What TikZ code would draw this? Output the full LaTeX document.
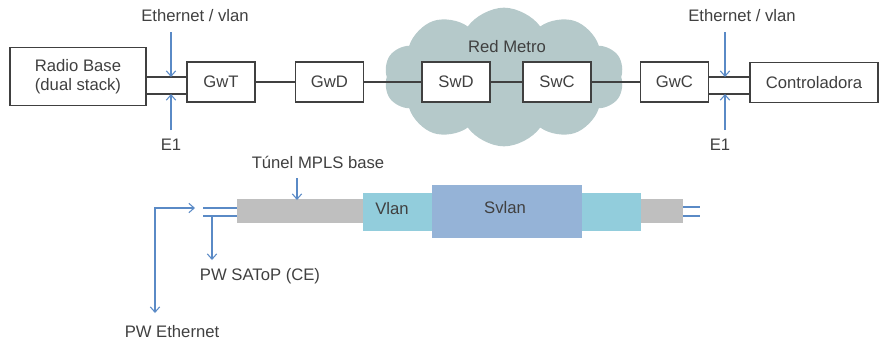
\documentclass[tikz,border=0pt]{standalone}
\usepackage{fontspec}
\setmainfont{Liberation Sans}
\usetikzlibrary{shapes.symbols,arrows.meta}
\definecolor{txt}{HTML}{404040}
\definecolor{bl}{HTML}{5A8AC6}
\definecolor{cloudc}{HTML}{B5C9CA}
\definecolor{graybar}{HTML}{BFBFBF}
\definecolor{cyanbar}{HTML}{92CDDC}
\definecolor{svlanc}{HTML}{95B3D7}
\begin{document}
\begin{tikzpicture}[x=0.75pt,y=-0.75pt,
  every node/.style={text=txt,font=\fontsize{12.5}{14}\selectfont},
  box/.style={draw=black!75,line width=0.8pt,fill=white,minimum width=51pt,minimum height=30pt,inner sep=0pt},
  conn/.style={draw=black!75,line width=0.8pt},
  barr/.style={draw=bl,line width=0.8pt,-{Straight Barb[length=4pt,width=7pt]}},
  bline/.style={draw=bl,line width=0.8pt},
  seg/.style={draw=none,inner sep=0pt}]
\useasboundingbox (0,0) rectangle (880,340);
% cloud
\node[cloud,cloud puffs=10,cloud puff arc=110,aspect=1.7,fill=cloudc,draw=none,
  minimum width=180pt,minimum height=104pt,inner sep=0pt] (cloud) at (504,77) {};
\node (redmetro) at (507,47) {Red Metro};
% boxes
\node[box,minimum width=102pt,minimum height=44pt,align=center] (rb) at (78,76.5) {Radio Base\\(dual stack)};
\node[box] (gwt) at (221,82) {GwT};
\node[box] (gwd) at (329.5,82) {GwD};
\node[box] (swd) at (456,82) {SwD};
\node[box] (swc) at (557,82) {SwC};
\node[box] (gwc) at (674.5,82) {GwC};
\node[box,minimum width=96pt,minimum height=29.5pt] (ctl) at (814,82.5) {Controladora};
% level coordinates
\coordinate (l1) at (0,77);
\coordinate (l2) at (0,94);
% double links
\draw[conn] (rb.east |- l1) -- (gwt.west |- l1);
\draw[conn] (rb.east |- l2) -- (gwt.west |- l2);
\draw[conn] (gwc.east |- l1) -- (ctl.west |- l1);
\draw[conn] (gwc.east |- l2) -- (ctl.west |- l2);
% single links
\draw[conn] (gwt) -- (gwd);
\draw[conn] (gwd) -- (swd);
\draw[conn] (swd) -- (swc);
\draw[conn] (swc) -- (gwc);
% labels and arrows left
\node (eth1) at (195,16) {Ethernet / vlan};
\node (e1a) at (171,145) {E1};
\coordinate (a1s) at (171,32); \coordinate (a1e) at (171,77);
\coordinate (a2s) at (171,130); \coordinate (a2e) at (171,94);
\draw[barr] (a1s) -- (a1e);
\draw[barr] (a2s) -- (a2e);
% right
\node (eth2) at (742,16) {Ethernet / vlan};
\node (e1b) at (720,145) {E1};
\coordinate (b1s) at (725,32); \coordinate (b1e) at (725,77);
\coordinate (b2s) at (725,130); \coordinate (b2e) at (725,94);
\draw[barr] (b1s) -- (b1e);
\draw[barr] (b2s) -- (b2e);
% bottom tunnel
\fill[svlanc] (432,185) rectangle (582,238);
\fill[cyanbar] (363,193) rectangle (432,231);
\fill[cyanbar] (582,193) rectangle (641,231);
\fill[graybar] (237,199) rectangle (363,223);
\fill[graybar] (641,199) rectangle (683,223);
\node (vlan) at (392,209) {Vlan};
\node (svlan) at (505,208) {Svlan};
\coordinate (ll1) at (203,208); \coordinate (ll1e) at (237,208);
\coordinate (ll2) at (203,216); \coordinate (ll2e) at (237,216);
\draw[bline] (ll1) -- (ll1e);
\draw[bline] (ll2) -- (ll2e);
\coordinate (rl1) at (683,207); \coordinate (rl1e) at (700,207);
\coordinate (rl2) at (683,216); \coordinate (rl2e) at (700,216);
\draw[bline] (rl1) -- (rl1e);
\draw[bline] (rl2) -- (rl2e);
\node (tunel) at (318,162) {Túnel MPLS base};
\coordinate (ts) at (297,178); \coordinate (te) at (297,200);
\draw[barr] (ts) -- (te);
\node (satop) at (260,276) {PW SAToP (CE)};
\coordinate (ss) at (212,216); \coordinate (se) at (212,260);
\draw[barr] (ss) -- (se);
\node (pweth) at (172,332) {PW Ethernet};
\coordinate (ps) at (195,208); \coordinate (pc) at (155,208); \coordinate (pe) at (155,313);
\draw[bline,{Straight Barb[length=4pt,width=7pt]}-{Straight Barb[length=4pt,width=7pt]}] (ps) -- (pc) -- (pe);
\end{tikzpicture}
\end{document}
